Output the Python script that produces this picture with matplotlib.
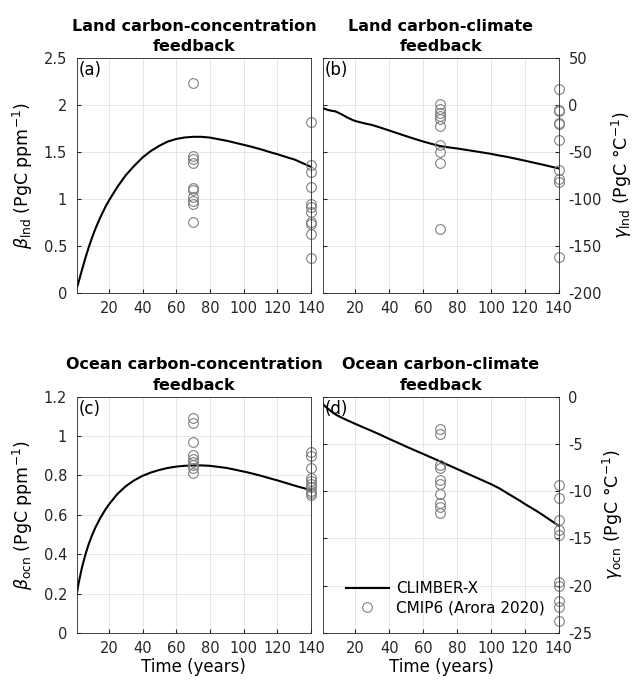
import matplotlib.pyplot as plt
import numpy as np
from matplotlib.ticker import FormatStrFormatter

# CLIMBER-X curves
t_curve = [1, 2, 4, 6, 8, 10, 12, 15, 18, 20, 25, 30, 35, 40, 45, 50, 55, 60, 65, 70, 75, 80, 90,
           100, 105, 110, 117, 120, 127, 130, 140]
beta_lnd = [0.05, 0.11, 0.24, 0.365, 0.48, 0.585, 0.68, 0.805, 0.915, 0.98, 1.125, 1.25, 1.35, 1.44,
            1.51, 1.565, 1.61, 1.637, 1.653, 1.66, 1.66, 1.652, 1.618, 1.575, 1.553, 1.528, 1.49,
            1.475, 1.435, 1.42, 1.34]
gamma_lnd = [-3.5, -4.3, -5.5, -6.3, -6.8, -8.4, -10.2, -13.2, -15.8, -17.2, -19.5, -21.5, -24.3,
             -27.3, -30.3, -33.3, -36.2, -39.0, -41.5, -43.8, -45.2, -46.4, -49.2, -52.1, -53.9,
             -55.5, -58.2, -59.4, -62.2, -63.4, -67.6]
beta_ocn = [0.20, 0.25, 0.33, 0.395, 0.45, 0.495, 0.535, 0.585, 0.627, 0.652, 0.705, 0.745, 0.775,
            0.798, 0.815, 0.828, 0.838, 0.845, 0.849, 0.851, 0.851, 0.849, 0.838, 0.82, 0.81, 0.799,
            0.782, 0.775, 0.757, 0.749, 0.725]
gamma_ocn = [-0.8, -1.0, -1.3, -1.6, -1.85, -2.05, -2.22, -2.48, -2.72, -2.88, -3.27, -3.65, -4.05,
             -4.47, -4.87, -5.28, -5.67, -6.06, -6.45, -6.84, -7.25, -7.65, -8.45, -9.25, -9.7,
             -10.25, -11.0, -11.35, -12.1, -12.45, -13.65]

# CMIP6 (Arora 2020) model values at year 70 and 140
beta_lnd_70 = [2.23, 1.46, 1.42, 1.38, 1.12, 1.09, 1.02, 0.98, 0.95, 0.75]
beta_lnd_140 = [1.82, 1.36, 1.29, 1.13, 0.94, 0.91, 0.86, 0.75, 0.73, 0.63, 0.37]
gamma_lnd_70 = [1, -4, -9, -12, -15, -22, -43, -50, -62, -132]
gamma_lnd_140 = [17, -5, -7, -19, -20, -37, -69, -79, -82, -162]
beta_ocn_70 = [1.09, 1.065, 0.972, 0.904, 0.884, 0.869, 0.852, 0.837, 0.811]
beta_ocn_140 = [0.921, 0.899, 0.84, 0.789, 0.774, 0.755, 0.74, 0.722, 0.71, 0.701]
gamma_ocn_70 = [-3.4, -4.0, -7.25, -7.55, -8.85, -9.2, -10.3, -11.3, -11.7, -12.3]
gamma_ocn_140 = [-9.3, -10.7, -13.0, -14.1, -14.6, -19.6, -20.0, -21.6, -22.3, -23.75]

plt.rcParams['font.family'] = 'DejaVu Sans'
plt.rcParams['font.size'] = 11

fig = plt.figure(figsize=(6.4, 6.81), dpi=100)
pos = {'a': [0.120, 0.570, 0.366, 0.345],
       'b': [0.505, 0.570, 0.368, 0.345],
       'c': [0.120, 0.0705, 0.366, 0.347],
       'd': [0.505, 0.0705, 0.368, 0.347]}

panels = [
    ('a', 'Land carbon-concentration\nfeedback', beta_lnd, beta_lnd_70, beta_lnd_140,
     (0, 2.5), np.arange(0, 2.51, 0.5), r'$\beta_{\rm lnd}$ (PgC ppm$^{-1}$)', False),
    ('b', 'Land carbon-climate\nfeedback', gamma_lnd, gamma_lnd_70, gamma_lnd_140,
     (-200, 50), np.arange(-200, 51, 50), r'$\gamma_{\rm lnd}$ (PgC $\degree$C$^{-1}$)', True),
    ('c', 'Ocean carbon-concentration\nfeedback', beta_ocn, beta_ocn_70, beta_ocn_140,
     (0, 1.2), np.arange(0, 1.21, 0.2), r'$\beta_{\rm ocn}$ (PgC ppm$^{-1}$)', False),
    ('d', 'Ocean carbon-climate\nfeedback', gamma_ocn, gamma_ocn_70, gamma_ocn_140,
     (-25, 0), np.arange(-25, 1, 5), r'$\gamma_{\rm ocn}$ (PgC $\degree$C$^{-1}$)', True),
]

for key, title, curve, p70, p140, ylim, yticks, ylab, right in panels:
    ax = fig.add_axes(pos[key])
    ax.plot(t_curve, curve, color='k', lw=1.5, label='CLIMBER-X')
    ax.plot([70] * len(p70), p70, 'o', mfc='none', mec='0.5', ms=7, mew=0.8,
            clip_on=False, label='CMIP6 (Arora 2020)')
    ax.plot([140] * len(p140), p140, 'o', mfc='none', mec='0.5', ms=7, mew=0.8,
            clip_on=False)
    ax.set_xlim(1, 140)
    ax.set_xticks(range(20, 141, 20))
    ax.set_ylim(*ylim)
    ax.set_yticks(yticks)
    ax.yaxis.set_major_formatter(FormatStrFormatter('%g'))
    ax.grid(True, color='0.9', lw=0.7)
    ax.set_axisbelow(True)
    ax.tick_params(direction='in', length=3, colors='0.15', labelsize=10.5)
    ax.tick_params(axis='y', pad=7)
    ax.tick_params(axis='x', pad=6)
    for s in ax.spines.values():
        s.set_color('0.15')
        s.set_linewidth(0.6)
    if right:
        ax.yaxis.tick_right()
        ax.yaxis.set_label_position('right')
        ax.tick_params(axis='y', left=True, labelleft=False)
    ax.set_ylabel(ylab, fontsize=12.5, labelpad=6)
    ax.set_title(title, fontweight='bold', fontsize=11.5, pad=5, linespacing=1.45)
    ax.text(0.008, 0.985, '(%s)' % key, transform=ax.transAxes, ha='left', va='top', fontsize=12)
    if key in ('c', 'd'):
        ax.set_xlabel('Time (years)', fontsize=12, labelpad=1)
    if key == 'd':
        ax.legend(loc='lower left', frameon=False, fontsize=11, handlelength=2.8,
                  bbox_to_anchor=(0.07, 0.05), borderaxespad=0, handletextpad=0.5,
                  labelspacing=0.25)

fig.savefig('out.png', dpi=100)
